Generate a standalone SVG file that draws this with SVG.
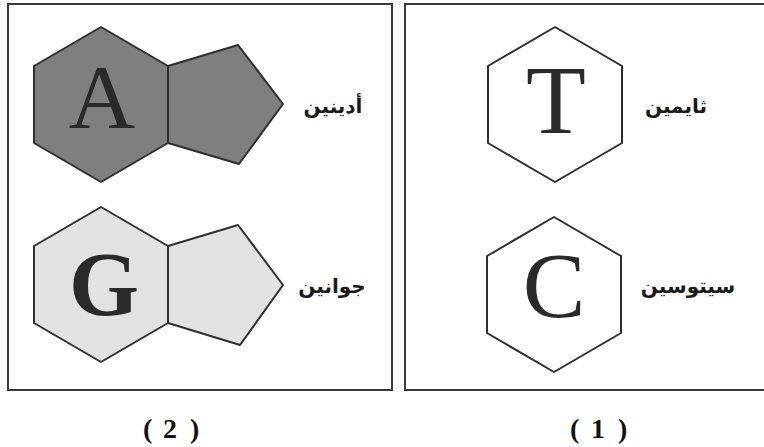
<svg xmlns="http://www.w3.org/2000/svg" width="764" height="447" viewBox="0 0 764 447">
<style>
.frame{fill:#fff;stroke:#3a3a3a;stroke-width:2}
.ring{stroke:#2e2e2e;stroke-width:2;stroke-linejoin:round}
.dark{fill:#7f7f7f}
.light{fill:#e2e2e2}
.white{fill:#fff}
.letter{font-family:'Liberation Serif','Times New Roman',Tinos,Times,serif;fill:#2a2a2a;text-anchor:middle}
.ar{font-family:'DejaVu Sans',sans-serif;font-weight:bold;font-size:20px;fill:#1a1a1a;text-anchor:middle}
.num{font-family:'Liberation Serif','Times New Roman',Tinos,Times,serif;font-weight:bold;font-size:28px;fill:#111}
</style>
<rect width="764" height="447" fill="#fff"/>
<g id="panel2">
<rect class="frame" x="8" y="4" width="384" height="386"/>
<text class="num" x="143 152 163 180 190" y="438">( 2 )</text>
</g>
<g id="panel1">
<rect class="frame" x="405" y="4" width="370" height="386"/>
<text class="num" x="570 579 591 607 618" y="438">( 1 )</text>
</g>
<g id="adenine">
<polygon class="ring dark" points="101,27 168,66 168,143 101,182 34,143 34,66"/>
<polygon class="ring dark" points="168,66 238,45 283,104 239,164 168,143"/>
<text class="letter" x="102" y="128" font-size="92">A</text>
<text class="ar" x="333" y="113">أدينين</text>
</g>
<g id="guanine">
<polygon class="ring light" points="101,207 168,246 168,323 101,362 34,323 34,246"/>
<polygon class="ring light" points="168,246 238,225 283,285 240,345 168,323"/>
<text class="letter" x="104" y="315" font-size="90" font-weight="bold">G</text>
<text class="ar" x="332" y="293">جوانين</text>
</g>
<g id="thymine">
<polygon class="ring white" points="555,27 622,66 622,143 555,182 488,143 488,66"/>
<text class="letter" x="556" y="133" font-size="98">T</text>
<text class="ar" x="676" y="113">ثايمين</text>
</g>
<g id="cytosine">
<polygon class="ring white" points="554,217 621,256 621,333 554,372 487,333 487,256"/>
<text class="letter" x="554" y="317" font-size="94">C</text>
<text class="ar" x="688" y="293">سيتوسين</text>
</g>
<g id="connectors"></g>
</svg>
